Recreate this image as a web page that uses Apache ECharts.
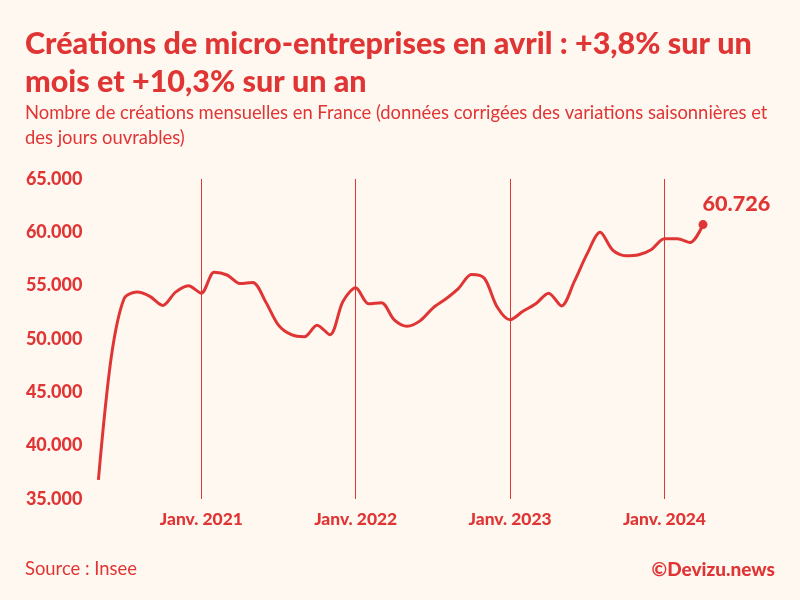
<!DOCTYPE html>
<html>
  <head>
    <meta charset="utf-8">
    <title>Créations de micro-entreprises</title>
    <style>
      html, body { margin: 0; padding: 0; width: 100%; height: 100%; background: #fff8f0; }
      #container { width: 800px; height: 600px; }
    </style>
  </head>
  <body>
    <div id="container"></div>
    <script src="https://cdn.jsdelivr.net/npm/echarts@6/dist/echarts.min.js"></script>
    <script type="text/javascript">
      const RED = '#e03535';
      const FONT = 'Lato, sans-serif';

      // mai 2020 -> avril 2024
      const monthNames = ['Janv.', 'Févr.', 'Mars', 'Avr.', 'Mai', 'Juin', 'Juil.', 'Août', 'Sept.', 'Oct.', 'Nov.', 'Déc.'];
      const months = [
        '2020-05', '2020-06', '2020-07', '2020-08', '2020-09', '2020-10', '2020-11', '2020-12',
        '2021-01', '2021-02', '2021-03', '2021-04', '2021-05', '2021-06', '2021-07', '2021-08', '2021-09', '2021-10', '2021-11', '2021-12',
        '2022-01', '2022-02', '2022-03', '2022-04', '2022-05', '2022-06', '2022-07', '2022-08', '2022-09', '2022-10', '2022-11', '2022-12',
        '2023-01', '2023-02', '2023-03', '2023-04', '2023-05', '2023-06', '2023-07', '2023-08', '2023-09', '2023-10', '2023-11', '2023-12',
        '2024-01', '2024-02', '2024-03', '2024-04'
      ];
      const creations = [
        36800, 48300, 53800, 54400, 54000, 53150, 54400, 55000,
        54300, 56250, 56000, 55200, 55300, 53500, 51300, 50400, 50200, 51300, 50400, 53500,
        54800, 53300, 53400, 51800, 51200, 51700, 52900, 53750, 54750, 56050, 55700, 53000,
        51800, 52600, 53300, 54300, 53100, 55400, 58000, 60000, 58300, 57800, 57900, 58400,
        59400, 59400, 59050, 60726
      ];

      const titleText = 'Créations de micro-entreprises en avril : +3,8% sur un\nmois et +10,3% sur un an';
      const subtitleText = 'Nombre de créations mensuelles en France (données corrigées des variations saisonnières et\ndes jours ouvrables)';
      const sourceText = 'Source : Insee';
      const creditText = '©Devizu.news';

      const dots = n => String(n).replace(/\B(?=(\d{3})+$)/g, '.');
      const isJanuary = i => months[i].endsWith('-01');
      const lastIndex = creations.length - 1;

      const chart = echarts.init(document.getElementById('container'));
      chart.setOption({
        backgroundColor: '#fff8f0',
        animation: false,
        title: [
          {
            text: titleText, left: 25, top: 25, padding: 0,
            textStyle: { color: RED, fontFamily: FONT, fontSize: 30.5, fontWeight: 900, lineHeight: 38 }
          },
          {
            text: subtitleText, left: 25, top: 101, padding: 0,
            textStyle: { color: RED, fontFamily: FONT, fontSize: 18.4, fontWeight: 'normal', lineHeight: 25 }
          },
          {
            text: sourceText, left: 25, top: 560, padding: 0,
            textStyle: { color: RED, fontFamily: FONT, fontSize: 18.4, fontWeight: 'normal' }
          },
          {
            text: creditText, right: 25, top: 560, padding: 0,
            textStyle: { color: RED, fontFamily: FONT, fontSize: 19, fontWeight: 900 }
          }
        ],
        grid: { left: 98.4, top: 179, width: 604.6, height: 320 },
        xAxis: {
          type: 'category',
          data: months,
          boundaryGap: false,
          axisLine: { show: false },
          axisTick: { show: false },
          axisLabel: {
            interval: i => isJanuary(i),
            formatter: v => monthNames[+v.slice(5) - 1] + ' ' + v.slice(0, 4),
            color: RED, fontFamily: FONT, fontSize: 17.4, fontWeight: 900, margin: 12
          },
          splitLine: {
            show: true,
            interval: i => isJanuary(i),
            lineStyle: { color: RED, width: 1 }
          }
        },
        yAxis: {
          type: 'value',
          min: 35000, max: 65000, interval: 5000,
          axisLine: { show: false },
          axisTick: { show: false },
          splitLine: { show: false },
          axisLabel: {
            formatter: v => dots(v),
            color: RED, fontFamily: FONT, fontSize: 18, fontWeight: 900,
            margin: 16
          }
        },
        series: [{
          type: 'line',
          data: creations,
          smooth: 0.3,
          showAllSymbol: true,
          symbol: (v, p) => p.dataIndex === lastIndex ? 'circle' : 'none',
          symbolSize: 9,
          itemStyle: { color: RED },
          lineStyle: { color: RED, width: 3 },
          label: {
            show: true,
            position: [4, -27],
            formatter: p => p.dataIndex === lastIndex ? dots(p.value) : '',
            color: RED, fontFamily: FONT, fontSize: 21.6, fontWeight: 900
          }
        }]
      });
    </script>
  </body>
</html>
